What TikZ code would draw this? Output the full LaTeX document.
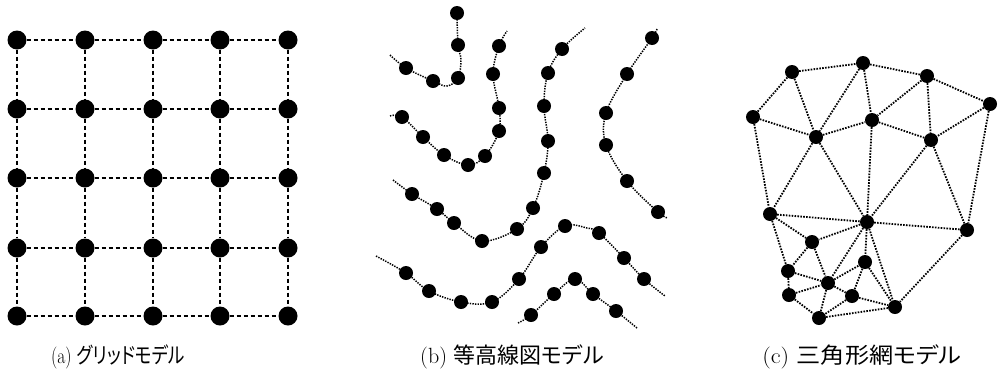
\documentclass[tikz,border=0pt]{standalone}
\usepackage{fontspec}
\newfontfamily\jp[RawFeature=+palt]{Noto Sans CJK JP}
\begin{document}
\begin{tikzpicture}[x=1pt,y=-1pt,
 gdot/.style={circle,fill=black,inner sep=0pt,minimum size=19pt},
 sdot/.style={circle,fill=black,inner sep=0pt,minimum size=14pt},
 gline/.style={line width=1.5pt,dash pattern=on 4.5pt off 2.5pt},
 cline/.style={line width=1.5pt,dash pattern=on 1.4pt off 1.2pt},
 tline/.style={line width=1.8pt,dash pattern=on 1.6pt off 1.3pt},
 lab/.style={anchor=base,font=\fontsize{22}{26}\selectfont}]
\useasboundingbox (0,0) rectangle (1000,381);

% ---------- (a) grid ----------
\foreach \x [count=\i] in {17,85,153,220,288}{
  \foreach \y [count=\j] in {40,109,178,248,316}{
    \node[gdot] (g\i\j) at (\x,\y) {};
  }
}
\foreach \i in {1,...,5}{
  \foreach \j/\k in {1/2,2/3,3/4,4/5}{
    \draw[gline] (g\i\j) -- (g\i\k);
    \draw[gline] (g\j\i) -- (g\k\i);
  }
}

% ---------- (b) contours ----------
% line 1
\coordinate (s1) at (390,55);
\coordinate (v1) at (447,86);
\coordinate (v1b) at (461,60);
\foreach \n/\p in {a/{406,68},b/{433,81},c/{458,78},d/{458,45},e/{457,13}}{
  \node[sdot] (c1\n) at (\p) {};
}
\draw[cline] plot[smooth,tension=0.6] coordinates {(s1) (c1a) (c1b) (v1) (c1c) (v1b) (c1d) (c1e)};
% line 2
\coordinate (s2) at (390,116);
\coordinate (e2) at (507,31);
\foreach \n/\p in {a/{402,117},b/{423,137},c/{444,155},d/{468,165},e/{485,156},f/{499,131},g/{499,108},h/{493,74},i/{499,46}}{
  \node[sdot] (c2\n) at (\p) {};
}
\draw[cline] plot[smooth,tension=0.6] coordinates {(s2) (c2a) (c2b) (c2c) (c2d) (c2e) (c2f) (c2g) (c2h) (c2i) (e2)};
% line 3
\coordinate (s3) at (393,180);
\coordinate (e3) at (585,28);
\foreach \n/\p in {a/{412,194},b/{437,209},c/{454,223},d/{482,241},e/{517,229},f/{533,208},g/{544,173},h/{548,141},i/{544,106},j/{548,73},k/{562,49}}{
  \node[sdot] (c3\n) at (\p) {};
}
\draw[cline] plot[smooth,tension=0.6] coordinates {(s3) (c3a) (c3b) (c3c) (c3d) (c3e) (c3f) (c3g) (c3h) (c3i) (c3j) (c3k) (e3)};
% line 4
\coordinate (s4) at (657,29);
\coordinate (e4) at (668,218);
\foreach \n/\p in {a/{652,38},b/{627,74},c/{606,113},d/{606,145},e/{627,181},f/{658,212}}{
  \node[sdot] (c4\n) at (\p) {};
}
\draw[cline] plot[smooth,tension=0.6] coordinates {(s4) (c4a) (c4b) (c4c) (c4d) (c4e) (c4f) (e4)};
% line 5
\coordinate (s5) at (376,256);
\coordinate (v5) at (587,228);
\coordinate (e5) at (665,296);
\foreach \n/\p in {a/{406,273},b/{429,291},c/{461,302},d/{492,302},e/{519,279},f/{541,247},g/{565,226},h/{599,233},i/{624,258},j/{644,279}}{
  \node[sdot] (c5\n) at (\p) {};
}
\draw[cline] plot[smooth,tension=0.6] coordinates {(s5) (c5a) (c5b) (c5c) (c5d) (c5e) (c5f) (c5g) (v5) (c5h) (c5i) (c5j) (e5)};
% line 6
\coordinate (s6) at (518,323);
\coordinate (e6) at (637,328);
\foreach \n/\p in {a/{531,315},b/{554,294},c/{575,279},d/{593,294},e/{616,311}}{
  \node[sdot] (c6\n) at (\p) {};
}
\draw[cline] plot[smooth,tension=0.6] coordinates {(s6) (c6a) (c6b) (c6c) (c6d) (c6e) (e6)};

% ---------- (c) triangulated network ----------
\foreach \n/\p in {A/{792,72},B/{863,63},C/{927,76},D/{990,104},E/{753,117},F/{816,137},G/{872,120},H/{931,140},I/{770,214},J/{867,222},K/{967,230},L/{812,242},M/{865,262},N/{788,271},O/{828,283},P/{789,295},Q/{852,296},R/{895,307},S/{819,318}}{
  \node[sdot] (t\n) at (\p) {};
}
\foreach \a/\b in {A/B,B/C,C/D,A/E,A/F,B/F,B/G,C/G,C/H,D/H,E/F,F/G,G/H,E/I,F/I,F/J,G/J,H/J,H/K,D/K,I/J,I/L,I/N,J/L,J/K,J/M,J/O,J/R,K/R,L/N,L/O,N/O,N/P,P/O,P/S,O/S,O/Q,O/M,M/Q,M/R,Q/S,Q/R,S/R}{
  \draw[tline] (t\a) -- (t\b);
}

% ---------- labels ----------
\node[lab] (la) at (118,363) {\scalebox{0.8}[1]{(a) {\jp グリッドモデル}}};
\node[lab] (lb) at (512,363) {(b) {\jp 等高線図モデル}};
\node[lab] (lc) at (862,363) {\scalebox{1.1}[1]{(c) {\jp 三角形網モデル}}};
\end{tikzpicture}
\end{document}
